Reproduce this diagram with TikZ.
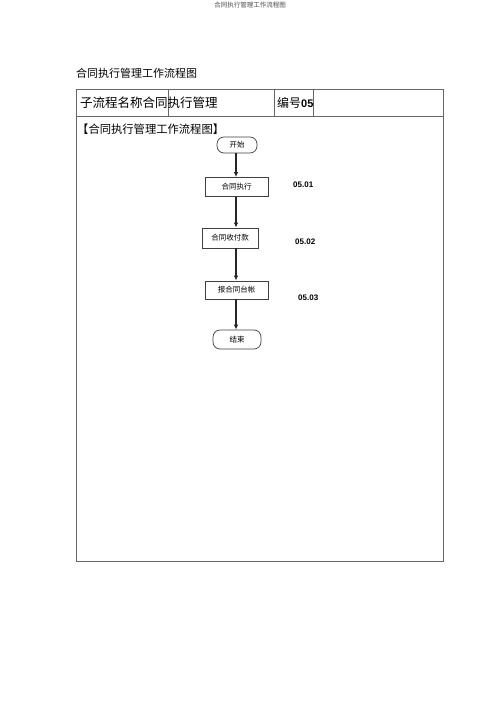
\documentclass[tikz,border=0pt]{standalone}
\usepackage{fontspec}
\setmainfont{Liberation Sans}
\newfontfamily\cjk{Noto Sans CJK SC}
\usetikzlibrary{arrows.meta}
\begin{document}
\begin{tikzpicture}[x=1pt,y=-1pt,
  frame/.style={draw=black!60,line width=0.8pt},
  stepbox/.style={draw=black!75,line width=0.8pt,minimum height=19pt,inner sep=0pt,font=\cjk\fontsize{7.5}{8}\selectfont},
  endbox/.style={draw=black!75,line width=0.7pt,rounded corners=7pt,minimum height=17pt,inner sep=0pt,font=\cjk\fontsize{7.5}{8}\selectfont},
  flow/.style={draw=black!85,line width=1.2pt,-{Latex[length=5pt,width=4.5pt]}},
  code/.style={font=\bfseries\fontsize{8}{9}\selectfont,anchor=west,inner sep=0pt},
  txt/.style={anchor=west,inner sep=0pt}]
\useasboundingbox (0,0) rectangle (500,708);
\fill[white] (0,0) rectangle (500,708);
\node[inner sep=0pt,font=\cjk\fontsize{6.5}{7}\selectfont,text=black!70] (top) at (250,5) {合同执行管理工作流程图};
\node[txt,font=\cjk\fontsize{11}{12}\selectfont] (title) at (76,73) {合同执行管理工作流程图};
% table
\draw[frame] (76,89) rectangle (443,561);
\draw[frame] (76,116) -- (443,116);
\draw[frame] (168,89) -- (168,116);
\draw[frame] (274,89) -- (274,116);
\draw[frame] (313,89) -- (313,116);
\node[txt,font=\cjk\fontsize{12.5}{13}\selectfont] (sub) at (80,102.5) {子流程名称合同执行管理};
\node[txt,font=\cjk\fontsize{12}{13}\selectfont] (num) at (277,102.5) {编号{\rmfamily\bfseries\fontsize{11}{12}\selectfont 05}};
\node[txt,font=\cjk\fontsize{11.3}{12}\selectfont] (head) at (77,129) {【合同执行管理工作流程图】};
% flow
\node[endbox,minimum width=40pt,minimum height=16pt] (start) at (237,145) {开始};
\node[stepbox,minimum width=63pt] (s1) at (236.5,187) {合同执行};
\node[stepbox,minimum width=56pt,minimum height=20pt] (s2) at (230,238) {合同收付款};
\node[stepbox,minimum width=63pt,minimum height=18pt] (s3) at (236.5,290) {报合同台帐};
\node[endbox,minimum width=48pt,minimum height=19pt] (end) at (237,339.5) {结束};
\draw[flow] (start.south -| 236,0) -- (s1.north -| 236,0);
\draw[flow] (s1.south -| 236,0) -- (s2.north -| 236,0);
\draw[flow] (s2.south -| 236,0) -- (s3.north -| 236,0);
\draw[flow] (s3.south -| 236,0) -- (end.north -| 236,0);
\node[code] (c1) at (293,185) {05.01};
\node[code] (c2) at (295,242) {05.02};
\node[code] (c3) at (298,298) {05.03};
\end{tikzpicture}
\end{document}
